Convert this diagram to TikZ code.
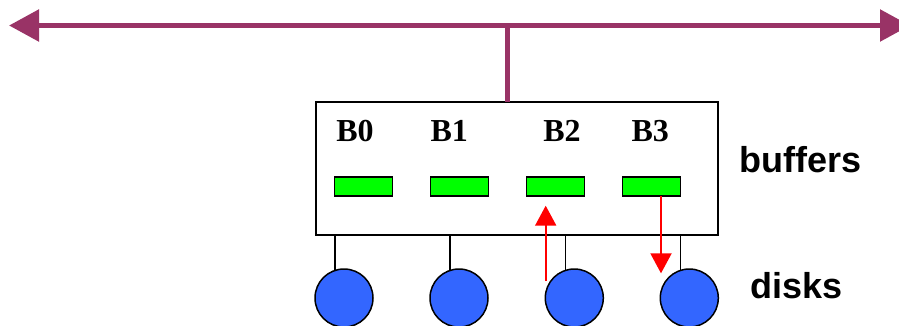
\documentclass[tikz,border=0pt]{standalone}
\usepackage{fontspec}
\setmainfont{Liberation Serif}
\newfontfamily\arialfont{Liberation Sans}
\usetikzlibrary{arrows.meta,backgrounds}
\definecolor{busc}{RGB}{153,51,102}
\definecolor{bufgreen}{RGB}{0,255,0}
\definecolor{diskblue}{RGB}{51,102,255}
\begin{document}
\begin{tikzpicture}[x=1pt,y=-1pt,
  outerbox/.style={draw=black,line width=2pt,minimum width=402.6pt,minimum height=133.6pt,inner sep=0pt,outer sep=0pt},
  bufbox/.style={draw=black,line width=1.5pt,fill=bufgreen,minimum width=58pt,minimum height=19pt,inner sep=0pt,outer sep=0pt},
  diskc/.style={circle,draw=black,line width=1.5pt,fill=diskblue,minimum size=58pt,inner sep=0pt,outer sep=0pt},
  blabel/.style={font=\fontsize{32}{38}\selectfont\bfseries,anchor=base,inner sep=0pt},
  side/.style={font=\arialfont\fontsize{36}{42}\selectfont\bfseries,anchor=base west,inner sep=0pt},
  bus/.style={draw=busc,line width=5.5pt},
  bushead/.style={{Triangle[length=30pt,width=31pt]}-{Triangle[length=30pt,width=31pt]}},
  stem/.style={draw=black,line width=1.5pt},
  redarrow/.style={draw=red,line width=2pt,-{Triangle[length=20pt,width=21pt]}},
]
\useasboundingbox (0,0) rectangle (899,325);

% bus
\coordinate (busL) at (9,25.5);
\coordinate (busR) at (910,25.5);
\coordinate (tap) at (507.7,25.5);
\draw[bus,bushead] (busL) -- (busR);

% controller box
\node[outerbox] (box) at (517,168.5) {};
\draw[bus] (tap) -- (box.north -| tap);

% buffers
\node[bufbox] (buf0) at (363.7,186.7) {};
\node[bufbox] (buf1) at (459.7,186.7) {};
\node[bufbox] (buf2) at (555.7,186.7) {};
\node[bufbox] (buf3) at (651.7,186.7) {};

% labels
\node[blabel] (lb0) at (355,141.7) {B0};
\node[blabel] (lb1) at (449.3,141.7) {B1};
\node[blabel] (lb2) at (562,141.7) {B2};
\node[blabel] (lb3) at (650.2,141.7) {B3};

% disks
\node[diskc] (disk0) at (344,298) {};
\node[diskc] (disk1) at (459,298) {};
\node[diskc] (disk2) at (574.3,298) {};
\node[diskc] (disk3) at (689.3,298) {};

\coordinate (s0) at ([xshift=-9pt]disk0.center);
\coordinate (s1) at ([xshift=-9pt]disk1.center);
\coordinate (s2) at ([xshift=-9pt]disk2.center);
\coordinate (s3) at ([xshift=-9pt]disk3.center);
\begin{scope}[on background layer]
\draw[stem] (box.south -| s0) -- (s0);
\draw[stem] (box.south -| s1) -- (s1);
\draw[stem] (box.south -| s2) -- (s2);
\draw[stem] (box.south -| s3) -- (s3);
\end{scope}

% transfers
\coordinate (upS) at (545.7,281);
\coordinate (upT) at (545.7,205.7);
\draw[redarrow] (upS) -- (upT);
\coordinate (dnT) at (661,273.3);
\draw[redarrow] (buf3.south -| dnT) -- (dnT);

% side labels
\node[side] (buffers) at (739,172.3) {buffers};
\node[side] (disks) at (750,298.3) {disks};
\end{tikzpicture}
\end{document}
